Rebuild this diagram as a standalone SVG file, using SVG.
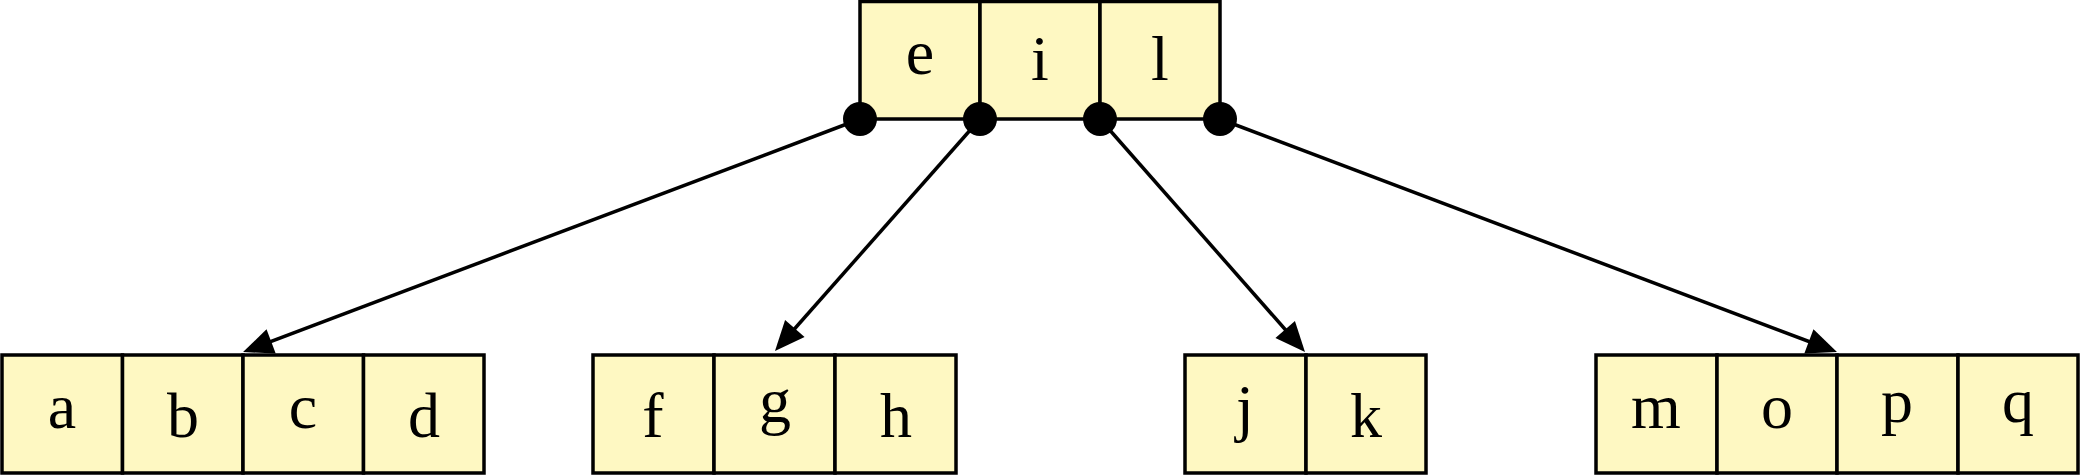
<svg xmlns="http://www.w3.org/2000/svg" width="2080" height="476" viewBox="0 0 2080 476">
<style>
.cell{fill:#fef8c2;stroke:#000;stroke-width:3.5}
.lbl{font-family:"Liberation Serif","DejaVu Serif",serif;font-size:64px;text-anchor:middle;fill:#000}
.edge{stroke:#000;stroke-width:3.5;fill:none;marker-end:url(#ah)}
.dot{fill:#000}
</style>
<defs>
<marker id="ah" markerUnits="userSpaceOnUse" markerWidth="40" markerHeight="40" refX="20" refY="13" orient="auto" overflow="visible">
<path d="M0,0 L30,13 L0,26 z" fill="#000"/>
</marker>
</defs>
<g id="connectors">
<line class="edge" x1="860" y1="119" x2="252.4" y2="348.5"/>
<line class="edge" x1="980" y1="119" x2="781.6" y2="343.5"/>
<line class="edge" x1="1100" y1="119" x2="1298.4" y2="344.5"/>
<line class="edge" x1="1220" y1="119" x2="1827.6" y2="348.5"/>
</g>
<g id="node-eil">
<rect class="cell" x="860" y="1.5" width="120" height="117.5"/>
<rect class="cell" x="980" y="1.5" width="120" height="117.5"/>
<rect class="cell" x="1100" y="1.5" width="120" height="117.5"/>
<text class="lbl" x="920" y="74">e</text>
<text class="lbl" x="1040" y="80">i</text>
<text class="lbl" x="1160" y="80">l</text>
<circle class="dot" cx="860" cy="119" r="17"/>
<circle class="dot" cx="980" cy="119" r="17"/>
<circle class="dot" cx="1100" cy="119" r="17"/>
<circle class="dot" cx="1220" cy="119" r="17"/>
</g>
<g id="node-abcd">
<rect class="cell" x="2" y="355" width="120.5" height="118"/>
<rect class="cell" x="122.5" y="355" width="120.5" height="118"/>
<rect class="cell" x="243" y="355" width="120.5" height="118"/>
<rect class="cell" x="363.5" y="355" width="120.5" height="118"/>
<text class="lbl" x="62" y="428">a</text>
<text class="lbl" x="183" y="437">b</text>
<text class="lbl" x="303" y="428">c</text>
<text class="lbl" x="424" y="437">d</text>
</g>
<g id="node-fgh">
<rect class="cell" x="593" y="355" width="121" height="118"/>
<rect class="cell" x="714" y="355" width="121" height="118"/>
<rect class="cell" x="835" y="355" width="121" height="118"/>
<text class="lbl" x="653" y="437">f</text>
<text class="lbl" x="775" y="422">g</text>
<text class="lbl" x="896" y="437">h</text>
</g>
<g id="node-jk">
<rect class="cell" x="1185" y="355" width="121" height="118"/>
<rect class="cell" x="1306" y="355" width="120" height="118"/>
<text class="lbl" x="1245" y="429">j</text>
<text class="lbl" x="1366" y="437">k</text>
</g>
<g id="node-mopq">
<rect class="cell" x="1596" y="355" width="121" height="118"/>
<rect class="cell" x="1717" y="355" width="120" height="118"/>
<rect class="cell" x="1837" y="355" width="121" height="118"/>
<rect class="cell" x="1958" y="355" width="120" height="118"/>
<text class="lbl" x="1656" y="428">m</text>
<text class="lbl" x="1777" y="428">o</text>
<text class="lbl" x="1897" y="422">p</text>
<text class="lbl" x="2018" y="422">q</text>
</g>
</svg>
